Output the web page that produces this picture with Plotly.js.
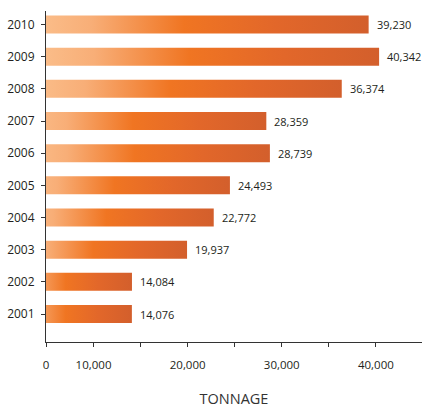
<!DOCTYPE html>
<html>
<head>
<meta charset="utf-8">
<script src="https://cdn.plot.ly/plotly-3.0.1.min.js"></script>
<style>
  html, body { margin: 0; padding: 0; background: #ffffff; }
  #chart { width: 422px; height: 408px; }
</style>
</head>
<body>
<div id="chart"></div>
<script>
// ---- data ----
var years = ["2001", "2002", "2003", "2004", "2005", "2006", "2007", "2008", "2009", "2010"];
var tonnage = [14076, 14084, 19937, 22772, 24493, 28739, 28359, 36374, 40342, 39230];
var valueLabels = ["14,076", "14,084", "19,937", "22,772", "24,493", "28,739", "28,359", "36,374", "40,342", "39,230"];
var xTickVals = [4950, 10000, 15000, 20000, 25000, 30000, 35000, 40000];
var xTickText = ["0", "10,000", "", "20,000", "", "30,000", "", "40,000"];
var axisTitle = "TONNAGE";

var FONT = "'Open Sans', 'Noto Sans', sans-serif";
var TXT = "#231f20";

var trace = {
  type: "bar",
  orientation: "h",
  x: tonnage,
  y: years,
  width: 0.56,
  marker: { color: "#f07422", line: { width: 0 } },
  hoverinfo: "x+y"
};

// category axis: annotation positions use the category serial number
var annotations = years.map(function (yr, i) {
  return {
    x: tonnage[i], y: i, xref: "x", yref: "y",
    text: valueLabels[i], showarrow: false,
    xanchor: "left", yanchor: "middle", xshift: 6,
    font: { family: FONT, size: 11, color: TXT }
  };
});

var layout = {
  width: 422, height: 408,
  margin: { l: 46, r: 0, t: 11, b: 66, pad: 0 },
  paper_bgcolor: "#ffffff", plot_bgcolor: "#ffffff",
  showlegend: false,
  bargap: 0.44,
  xaxis: {
    range: [4950, 44900],
    showgrid: false, zeroline: false,
    showline: true, linecolor: "#333333", linewidth: 1,
    ticks: "outside", ticklen: 4, tickcolor: "#333333", tickwidth: 1,
    tickmode: "array", tickvals: xTickVals, ticktext: xTickText,
    ticklabelstandoff: 8,
    tickfont: { family: FONT, size: 11.5, color: TXT },
    title: { text: axisTitle, standoff: 26, font: { family: FONT, size: 14.5, color: "#333333" } }
  },
  yaxis: {
    type: "category",
    categoryorder: "array", categoryarray: years,
    range: [-0.87, 9.42],
    showgrid: false, zeroline: false,
    showline: true, linecolor: "#333333", linewidth: 1,
    ticks: "outside", ticklen: 4, tickcolor: "#333333", tickwidth: 1,
    ticklabelstandoff: 4,
    tickfont: { family: FONT, size: 12, color: TXT }
  },
  annotations: annotations
};

function applyGradient(gd) {
  var svg = gd.querySelector("svg.main-svg");
  if (!svg) return;
  var ns = "http://www.w3.org/2000/svg";
  var defs = svg.querySelector("defs");
  if (!defs) { defs = document.createElementNS(ns, "defs"); svg.insertBefore(defs, svg.firstChild); }
  var grad = document.createElementNS(ns, "linearGradient");
  grad.setAttribute("id", "barGrad");
  grad.setAttribute("x1", "0"); grad.setAttribute("y1", "0");
  grad.setAttribute("x2", "1"); grad.setAttribute("y2", "0");
  var stops = [[0, "#fdca99"], [0.25, "#f8ae77"], [0.5, "#f07522"], [0.75, "#e2672a"], [1, "#d35f2c"]];
  stops.forEach(function (s) {
    var st = document.createElementNS(ns, "stop");
    st.setAttribute("offset", s[0]);
    st.setAttribute("stop-color", s[1]);
    grad.appendChild(st);
  });
  defs.appendChild(grad);
  gd.querySelectorAll(".barlayer .point path").forEach(function (p) {
    p.style.fill = "url(#barGrad)";
  });
}

var gd = document.getElementById("chart");
Plotly.newPlot(gd, [trace], layout, { displayModeBar: false, staticPlot: true }).then(applyGradient);
</script>
</body>
</html>
